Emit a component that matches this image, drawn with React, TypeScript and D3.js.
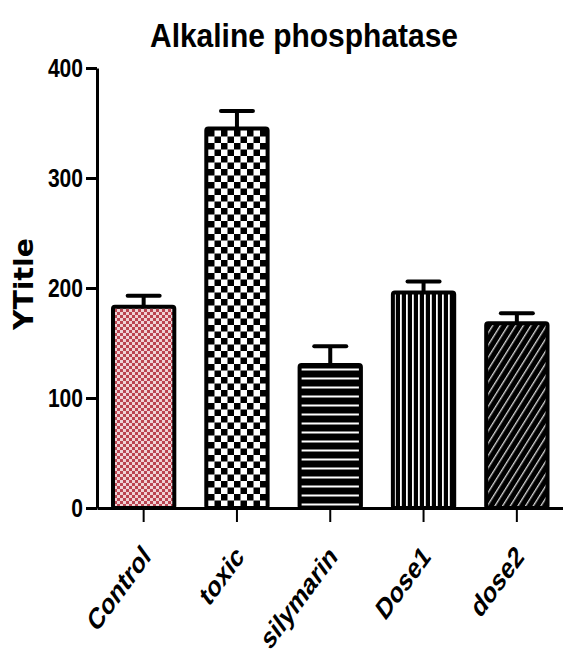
import React, { useEffect, useRef } from "react";
import * as d3 from "d3";

// group names on the x axis
const categories = ["Control", "toxic", "silymarin", "Dose1", "dose2"];
// bar heights (mean)
const means = [183, 345, 130, 196, 168];
// upper error bar (SEM)
const errors = [10, 16, 17, 10, 9];
const yTicks = [0, 100, 200, 300, 400];
const title = "Alkaline phosphatase";
const yTitle = "YTitle";

const width = 563;
const height = 651;

function App() {
  const ref = useRef<SVGSVGElement | null>(null);

  useEffect(() => {
    drawChart();
  }, []);

  function drawChart() {
    const svg = d3.select(ref.current);
    svg.selectAll("*").remove();

    const y = d3.scaleLinear().domain([0, 400]).range([508, 68]);
    const x = d3
      .scaleBand()
      .domain(categories)
      .range([97, 563.5])
      .paddingInner(0.3)
      .paddingOuter(0.15);

    // fill patterns, one per bar
    const defs = svg.append("defs");

    const p0 = defs
      .append("pattern")
      .attr("id", "pat0")
      .attr("patternUnits", "userSpaceOnUse")
      .attr("width", 6)
      .attr("height", 6);
    p0.append("rect").attr("width", 6).attr("height", 6).attr("fill", "#ffffff");
    p0.append("rect").attr("x", 3).attr("width", 3).attr("height", 3).attr("fill", "#b8424f");
    p0.append("rect").attr("y", 3).attr("width", 3).attr("height", 3).attr("fill", "#b8424f");
    p0.append("rect").attr("width", 6).attr("height", 6).attr("fill", "#c0505c").attr("opacity", 0.25);

    const p1 = defs
      .append("pattern")
      .attr("id", "pat1")
      .attr("patternUnits", "userSpaceOnUse")
      .attr("width", 13)
      .attr("height", 13);
    p1.append("rect").attr("width", 13).attr("height", 13).attr("fill", "#ffffff");
    p1.append("rect").attr("width", 6.5).attr("height", 6.5).attr("fill", "#000000");
    p1.append("rect").attr("x", 6.5).attr("y", 6.5).attr("width", 6.5).attr("height", 6.5).attr("fill", "#000000");

    const p2 = defs
      .append("pattern")
      .attr("id", "pat2")
      .attr("patternUnits", "userSpaceOnUse")
      .attr("width", 10)
      .attr("height", 9)
      .attr("y", 2);
    p2.append("rect").attr("width", 10).attr("height", 9).attr("fill", "#000000");
    p2.append("rect").attr("y", 6.5).attr("width", 10).attr("height", 2).attr("fill", "#ffffff");

    const p3 = defs
      .append("pattern")
      .attr("id", "pat3")
      .attr("patternUnits", "userSpaceOnUse")
      .attr("width", 6)
      .attr("height", 10);
    p3.append("rect").attr("width", 6).attr("height", 10).attr("fill", "#000000");
    p3.append("rect").attr("x", 4).attr("width", 1.8).attr("height", 10).attr("fill", "#ffffff");

    const p4 = defs
      .append("pattern")
      .attr("id", "pat4")
      .attr("patternUnits", "userSpaceOnUse")
      .attr("width", 6.5)
      .attr("height", 10)
      .attr("patternTransform", "rotate(32)");
    p4.append("rect").attr("width", 6.5).attr("height", 10).attr("fill", "#000000");
    p4.append("rect").attr("x", 4.8).attr("width", 1.1).attr("height", 10).attr("fill", "#ffffff");

    // title
    svg
      .append("text")
      .attr("x", 304)
      .attr("y", 47)
      .attr("text-anchor", "middle")
      .attr("font-family", "'Liberation Sans', Arial, sans-serif")
      .attr("font-weight", "bold")
      .attr("font-size", 33)
      .attr("textLength", 308)
      .attr("lengthAdjust", "spacingAndGlyphs")
      .text(title);

    // y axis title
    svg
      .append("text")
      .attr("transform", "translate(33, 284) rotate(-90)")
      .attr("text-anchor", "middle")
      .attr("font-family", "'DejaVu Sans', sans-serif")
      .attr("font-weight", "bold")
      .attr("font-size", 26)
      .attr("textLength", 92)
      .attr("lengthAdjust", "spacingAndGlyphs")
      .text(yTitle);

    // bars
    const bars = svg.append("g");
    bars
      .selectAll("rect")
      .data(categories)
      .enter()
      .append("rect")
      .attr("x", (d) => x(d)! + 2)
      .attr("width", x.bandwidth() - 4)
      .attr("y", (_, i) => y(means[i]))
      .attr("height", (_, i) => y(0) - y(means[i]))
      .attr("rx", 2)
      .attr("fill", (_, i) => `url(#pat${i})`)
      .attr("stroke", "#000000")
      .attr("stroke-width", 4);

    // error bars (upper only)
    const err = svg.append("g").attr("stroke", "#000000").attr("stroke-width", 4);
    categories.forEach((c, i) => {
      const cx = x(c)! + x.bandwidth() / 2;
      err
        .append("line")
        .attr("x1", cx)
        .attr("x2", cx)
        .attr("y1", y(means[i]))
        .attr("y2", y(means[i] + errors[i]));
      err
        .append("line")
        .attr("x1", cx - 16)
        .attr("x2", cx + 16)
        .attr("y1", y(means[i] + errors[i]))
        .attr("y2", y(means[i] + errors[i]))
        .attr("stroke-linecap", "round");
    });

    // y axis
    const yAxis = svg
      .append("g")
      .attr("transform", "translate(97, 0)")
      .call(
        d3.axisLeft(y).tickValues(yTicks).tickSize(11).tickSizeOuter(0).tickPadding(3)
      );
    yAxis.select(".domain").attr("stroke-width", 3);
    yAxis.selectAll(".tick line").attr("stroke-width", 3);
    yAxis
      .selectAll(".tick text")
      .attr("font-family", "'Liberation Sans', Arial, sans-serif")
      .attr("font-weight", "bold")
      .attr("font-size", 25)
      .attr("textLength", (d: any) => String(d).length * 11.7)
      .attr("lengthAdjust", "spacingAndGlyphs")
      .attr("fill", "#000000");

    // x axis
    const xAxis = svg
      .append("g")
      .attr("transform", "translate(0, 508)")
      .call(d3.axisBottom(x).tickSize(14).tickSizeOuter(0).tickFormat(() => ""));
    xAxis.select(".domain").attr("stroke-width", 3);
    xAxis.selectAll(".tick line").attr("stroke-width", 2);

    // rotated category labels
    svg
      .append("g")
      .selectAll("text")
      .data(categories)
      .enter()
      .append("text")
      .attr("transform", (d) => {
        const cx = x(d)! + x.bandwidth() / 2;
        return `translate(${cx - 3}, ${543}) scale(0.85, 1.15) rotate(-45)`;
      })
      .attr("dy", "0.72em")
      .attr("text-anchor", "end")
      .attr("font-family", "'Liberation Sans', Arial, sans-serif")
      .attr("font-weight", "bold")
      .attr("font-size", 26)
      .text((d) => d);
  }

  return (
    <svg
      ref={ref}
      width={width}
      height={height}
      style={{ position: "absolute", left: 0, top: 0, background: "#ffffff" }}
    />
  );
}

export default App;
